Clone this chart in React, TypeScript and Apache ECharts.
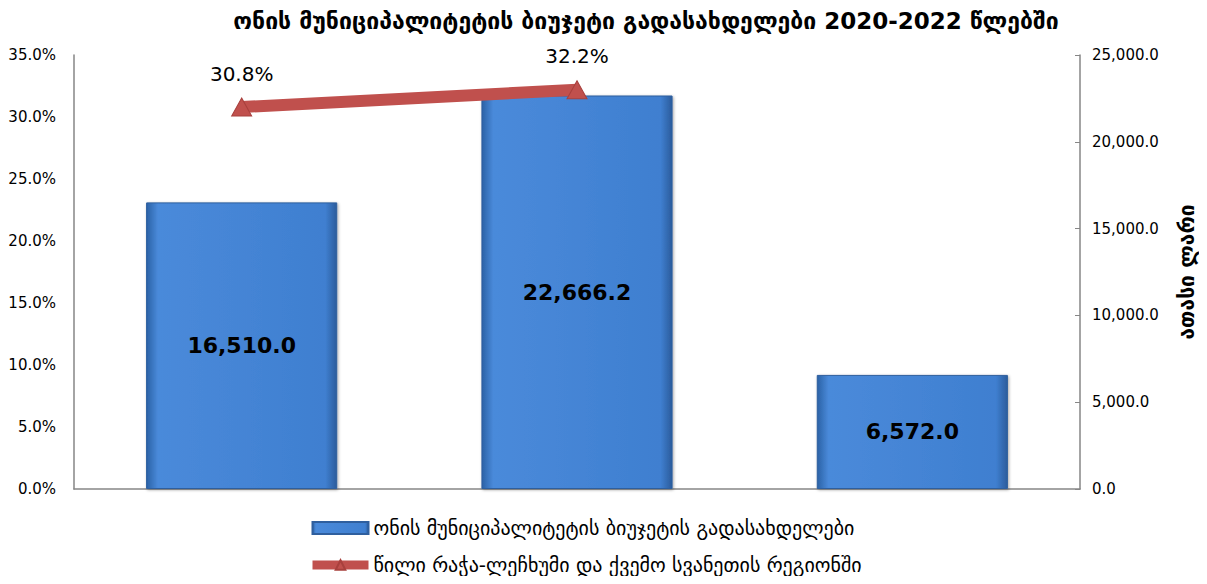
import React, { useEffect, useRef } from "react";
import * as echarts from "echarts";

const categories = ["2020", "2021", "2022"];
const budgetValues = [16510.0, 22666.2, 6572.0];
const shareValues: (number | null)[] = [30.8, 32.2, null];
const titleText = "ონის მუნიციპალიტეტის ბიუჯეტი გადასახდელები 2020-2022 წლებში";
const barName = "ონის მუნიციპალიტეტის ბიუჯეტის გადასახდელები";
const lineName = "წილი რაჭა-ლეჩხუმი და ქვემო სვანეთის რეგიონში";
const rightAxisName = "ათასი ლარი";

const FONT = "'DejaVu Sans', 'Noto Sans', sans-serif";

export default function App() {
  const ref = useRef<HTMLDivElement>(null);
  useEffect(() => {
    if (!ref.current) return;
    const chart = echarts.init(ref.current, null, { renderer: "svg" });
    const barGradient = new echarts.graphic.LinearGradient(0, 0, 1, 0, [
      { offset: 0, color: "#2B62A6" },
      { offset: 0.06, color: "#4A8ADA" },
      { offset: 0.94, color: "#3F7FD0" },
      { offset: 1, color: "#2B5C9C" },
    ]);
    chart.setOption({
      animation: false,
      backgroundColor: "#ffffff",
      title: {
        text: titleText,
        left: 641,
        textAlign: "center",
        top: 4,
        textStyle: { fontFamily: FONT, fontSize: 23, fontWeight: "bold", color: "#000" },
      },
      legend: {
        orient: "vertical",
        left: 303,
        top: 513,
        itemGap: 17,
        itemWidth: 56,
        itemHeight: 12,
        textStyle: { fontFamily: FONT, fontSize: 20, color: "#000" },
        data: [
          { name: barName, icon: "rect" },
          { name: lineName, lineStyle: { width: 9 } },
        ],
      },
      grid: { left: 74, right: 127, top: 55, bottom: 95, containLabel: false },
      xAxis: {
        type: "category",
        data: categories,
        axisLine: { show: true, lineStyle: { color: "#868686", width: 1.5 } },
        axisTick: { show: false },
        axisLabel: { show: false },
      },
      yAxis: [
        {
          type: "value",
          min: 0,
          max: 35,
          interval: 5,
          position: "left",
          axisLine: { show: true, lineStyle: { color: "#868686", width: 1.5 } },
          axisTick: { show: false },
          splitLine: { show: false },
          axisLabel: {
            fontFamily: FONT,
            fontSize: 15,
            color: "#000",
            margin: 18,
            formatter: (v: number) => v.toFixed(1) + "%",
          },
        },
        {
          type: "value",
          min: 0,
          max: 25000,
          interval: 5000,
          position: "right",
          name: rightAxisName,
          nameLocation: "middle",
          nameRotate: 90,
          nameGap: 96,
          nameTextStyle: { fontFamily: FONT, fontSize: 21, fontWeight: "bold", color: "#000" },
          axisLine: { show: true, lineStyle: { color: "#868686", width: 1.5 } },
          axisTick: { show: true, inside: true, length: 5, lineStyle: { color: "#868686" } },
          splitLine: { show: false },
          axisLabel: {
            fontFamily: FONT,
            fontSize: 15,
            color: "#000",
            margin: 12,
            formatter: (v: number) =>
              v.toLocaleString("en-US", { minimumFractionDigits: 1, maximumFractionDigits: 1 }),
          },
        },
      ],
      series: [
        {
          name: barName,
          type: "bar",
          yAxisIndex: 1,
          data: budgetValues,
          barWidth: "57%",
          itemStyle: {
            color: barGradient,
            borderColor: "#2F5F9E",
            borderWidth: 1,
            shadowColor: "rgba(0,0,0,0.35)",
            shadowBlur: 3,
            shadowOffsetX: 1,
            shadowOffsetY: 1,
          },
          label: {
            show: true,
            position: "inside",
            fontFamily: FONT,
            fontSize: 22,
            fontWeight: "bold",
            color: "#000",
            formatter: (p: any) =>
              Number(p.value).toLocaleString("en-US", { minimumFractionDigits: 1, maximumFractionDigits: 1 }),
          },
        },
        {
          name: lineName,
          type: "line",
          yAxisIndex: 0,
          data: shareValues,
          symbol: "triangle",
          symbolSize: [20, 18],
          lineStyle: { color: "#C0504D", width: 12 },
          itemStyle: { color: "#C0504D", borderColor: "#A8403D", borderWidth: 1 },
          label: {
            show: true,
            position: "top",
            distance: 14,
            fontFamily: FONT,
            fontSize: 20,
            color: "#000",
            formatter: (p: any) => Number(p.value).toFixed(1) + "%",
          },
          z: 5,
        },
      ],
    });
    return () => chart.dispose();
  }, []);
  return <div ref={ref} style={{ width: 1207, height: 584, margin: -8 }} />;
}
